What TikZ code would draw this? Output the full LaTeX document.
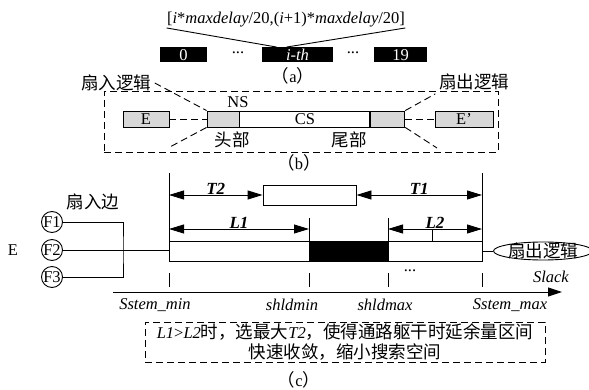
\documentclass[tikz,border=0pt]{standalone}
\usepackage{fontspec}
\setmainfont{Liberation Serif}
\newfontfamily\cjk[Scale=1.06]{Noto Sans CJK SC}
\usepackage{tikz}
\usetikzlibrary{arrows.meta, positioning, shapes.geometric}
\definecolor{kshade}{HTML}{D8D8D8}
\tikzset{
  binbox/.style={fill=black, text=white, minimum height=15pt, inner sep=0pt},
  cellbox/.style={draw, line width=0.9pt, minimum height=16pt, inner sep=0pt},
  shadebox/.style={cellbox, fill=kshade},
  dashline/.style={line width=0.9pt, dash pattern=on 7pt off 4pt},
  dimarrow/.style={line width=0.9pt, {Triangle[length=15pt,width=9pt]}-{Triangle[length=15pt,width=9pt]}},
  fcircle/.style={draw, circle, line width=0.9pt, minimum size=21pt, inner sep=0pt},
  dimlabel/.style={midway, above, inner sep=0.5pt, font=\fontsize{17}{19}\selectfont\bfseries\itshape}
}

\begin{document}
\begin{tikzpicture}[x=1pt, y=-1pt, font=\fontsize{16.5}{19}\selectfont, line width=0.9pt]
\useasboundingbox (0,0) rectangle (589,390);
% (a) bins
\node[inner sep=0pt] (range) at (286,20) {[\textit{i}*\textit{maxdelay}/20,(\textit{i}+1)*\textit{maxdelay}/20]};
\node[binbox, minimum width=47pt] (bin0) at (183.5,55) {0};
\node[binbox, minimum width=71pt] (binI) at (297.5,55) {\textit{i-th}};
\node[binbox, minimum width=53pt] (bin19) at (400.5,55) {19};
\node (dotsA) at (238,53) {...};
\node (dotsB) at (353,53) {...};
\draw (range.south west) -- ([xshift=15pt]binI.north west);
\draw (range.south east) -- ([xshift=25pt]binI.north west);
\node (capA) at (293,76) {{\cjk （}a{\cjk ）}};
% (b) cone of a net
\node[draw, dashline, minimum width=394pt, minimum height=61pt, inner sep=0pt] (frameB) at (301,121.5) {};
\node[shadebox, minimum width=46pt] (eIn) at (146,119) {E};
\node[shadebox, minimum width=32pt] (ns) at (223,119) {};
\node[cellbox, minimum width=130pt, right=0pt of ns] (cs) {CS};
\node[shadebox, minimum width=34pt, right=0pt of cs] (tail) {};
\node[shadebox, minimum width=58pt] (eOut) at (464,119) {E’};
\node (nsLabel) at (238,102) {NS};
\node (head) at (232,140) {\cjk 头部};
\node (tailLabel) at (349,140) {\cjk 尾部};
\node (fanIn) at (116,83) {\cjk 扇入逻辑};
\node (fanOut) at (474,82) {\cjk 扇出逻辑};
\coordinate (nsFoot) at (168,148);
\coordinate (tailFoot) at (437,148);
\draw[dashline] (eIn) -- (ns);
\draw[dashline] (tail) -- (eOut);
\draw[dashline] (fanIn.east) -- (ns.north west);
\draw[dashline] (ns.south west) -- (nsFoot);
\draw[dashline] (tail.north east) -- (fanOut.south west);
\draw[dashline] (tail.south east) -- (tailFoot);
\node (capB) at (299,163) {{\cjk （}b{\cjk ）}};
% (c) slack window
\coordinate (sMin) at (169,173);
\coordinate (hMin) at (309,218);
\coordinate (hMax) at (388,218);
\coordinate (sMax) at (482,173);
\foreach \x/\top in {169/173, 309/218, 388/218, 482/173}{
  \draw (\x,\top) -- (\x,262);
  \draw (\x,273) -- (\x,287);
}
\node[cellbox, fill=white, minimum width=313pt, minimum height=20pt] (bar) at (325.5,251) {};
\node[cellbox, fill=black, minimum width=79pt, minimum height=20pt] (shld) at (348.5,251) {};
\node[cellbox, minimum width=93pt, minimum height=20pt] (cutBox) at (309.5,195) {};
\draw[dimarrow] (sMin |- cutBox.west) -- (cutBox.west) node[dimlabel] {T2};
\draw[dimarrow] (cutBox.east) -- (sMax |- cutBox.east) node[dimlabel] {T1};
\coordinate (armY) at (0,229);
\draw[dimarrow] (sMin |- armY) -- (hMin |- armY) node[dimlabel] {L1};
\draw[dimarrow] (hMax |- armY) -- (sMax |- armY) node[dimlabel] {L2};
\coordinate (l2Tick) at (432,229);
\draw (l2Tick) -- (l2Tick |- bar.north);
\node (fanInEdge) at (93,202) {\cjk 扇入边};
\node (ePin) at (13,250) {E};
\node[fcircle] (f1) at (52,222) {F1};
\node[fcircle] (f2) at (52,250) {F2};
\node[fcircle] (f3) at (52,277) {F3};
\coordinate (joint) at (123,250);
\draw (f1.east) -| (joint) |- (f3.east);
\draw (f2.east) -- (sMin |- f2.east);
\node[draw, ellipse, minimum width=90pt, minimum height=18pt, inner xsep=0pt, inner ysep=-2.5pt] (fanOutEl) at (543,251) {\cjk 扇出逻辑};
\draw (sMax |- bar.east) -- (fanOutEl.west);
\node (dotsC) at (410,271) {...};
\node (slack) at (551,277) {\textit{Slack}};
\coordinate (axisL) at (113,292);
\coordinate (axisR) at (562,292);
\draw[-{Triangle[length=14pt,width=9pt]}] (axisL) -- (axisR);
\node (lblSmin) at (155,305) {\textit{Sstem\_min}};
\node (lblHmin) at (292,305) {\textit{shldmin}};
\node (lblHmax) at (385,305) {\textit{shldmax}};
\node (lblSmax) at (510,305) {\textit{Sstem\_max}};
\node[draw, dashline, minimum width=400pt, minimum height=40pt, align=center, inner sep=0pt] (note) at (345,342)
  {\textit{L1}>\textit{L2}{\cjk 时，选最大}\textit{T2}{\cjk ，使得通路躯干时延余量区间}\\[1pt]{\cjk 快速收敛，缩小搜索空间}};
\node (capC) at (299,380) {{\cjk （}c{\cjk ）}};
\end{tikzpicture}
\end{document}
